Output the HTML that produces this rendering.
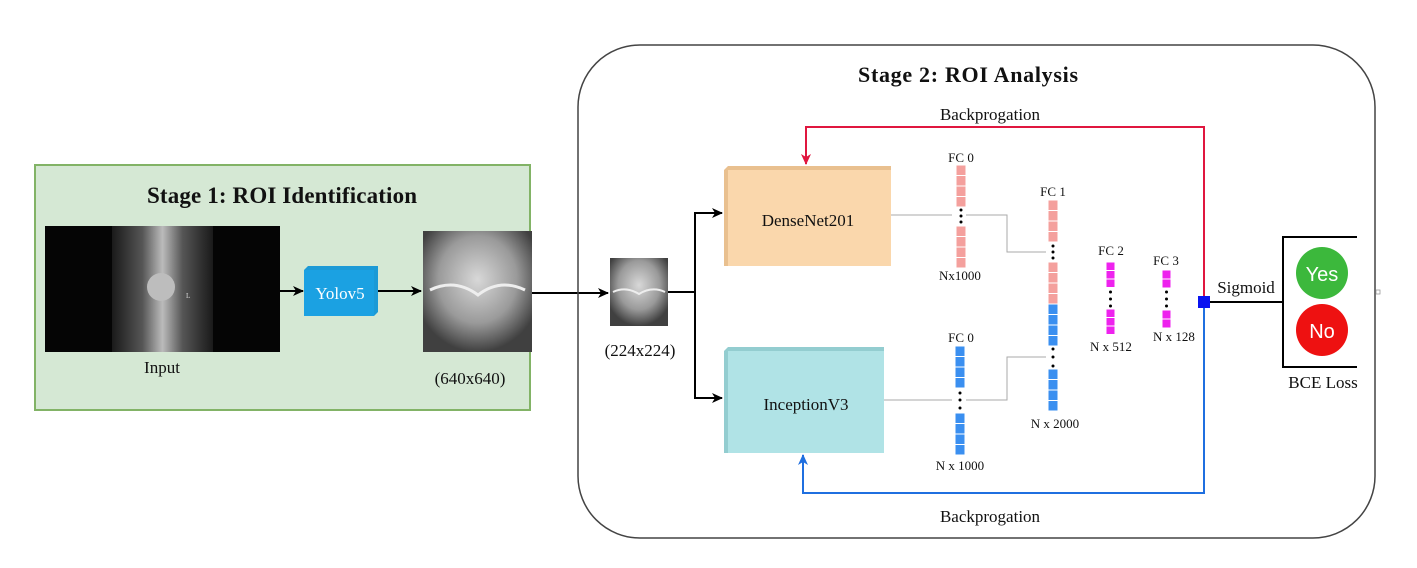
<!DOCTYPE html>
<html><head><meta charset="utf-8"><style>
html,body{margin:0;padding:0;background:#fff;}
svg{display:block;}
text{font-family:"Liberation Serif",serif;fill:#111;}
</style></head><body>
<svg width="1417" height="568" viewBox="0 0 1417 568" xmlns="http://www.w3.org/2000/svg">
<defs>
<marker id="ab" markerWidth="12" markerHeight="12" refX="10" refY="6" orient="auto" markerUnits="userSpaceOnUse"><path d="M0,1 L11,6 L0,11 L3,6 z" fill="#000"/></marker>
<marker id="ar" markerWidth="12" markerHeight="12" refX="10" refY="6" orient="auto" markerUnits="userSpaceOnUse"><path d="M0,1 L11,6 L0,11 L3,6 z" fill="#e0163f"/></marker>
<marker id="abl" markerWidth="12" markerHeight="12" refX="10" refY="6" orient="auto" markerUnits="userSpaceOnUse"><path d="M0,1 L11,6 L0,11 L3,6 z" fill="#1f6fe0"/></marker>
<radialGradient id="knee" cx="0.5" cy="0.4" r="0.6"><stop offset="0" stop-color="#d8d8d8"/><stop offset="0.6" stop-color="#9a9a9a"/><stop offset="1" stop-color="#404040"/></radialGradient>
<linearGradient id="leg" x1="0" x2="1"><stop offset="0" stop-color="#1a1a1a"/><stop offset="0.3" stop-color="#555"/><stop offset="0.5" stop-color="#bbb"/><stop offset="0.7" stop-color="#555"/><stop offset="1" stop-color="#1a1a1a"/></linearGradient>
</defs>

<!-- Stage 1 -->
<rect x="35" y="165" width="495" height="245" fill="#d5e8d4" stroke="#82b366" stroke-width="2"/>
<text x="282" y="203" font-size="23" font-weight="bold" text-anchor="middle" textLength="270">Stage 1: ROI Identification</text>
<rect x="45" y="226" width="235" height="126" fill="#050505"/>
<rect x="112" y="226" width="101" height="126" fill="url(#leg)"/>
<ellipse cx="161" cy="287" rx="14" ry="14" fill="#bdbdbd"/>
<text x="186" y="298" font-size="7" style="fill:#ddd">L</text>
<text x="162" y="373" font-size="17" text-anchor="middle">Input</text>

<line x1="280" y1="291" x2="303" y2="291" stroke="#000" stroke-width="2" marker-end="url(#ab)"/>
<path d="M304,270 L308,266 L378,266 L378,312 L374,316 L304,316 z" fill="#1c9ad6"/>
<rect x="304" y="270" width="70" height="46" fill="#1ba1e2"/>
<text x="340" y="299" font-size="17" text-anchor="middle" style="fill:#fff">Yolov5</text>
<line x1="378" y1="291" x2="421" y2="291" stroke="#000" stroke-width="2" marker-end="url(#ab)"/>

<rect x="423" y="231" width="109" height="121" fill="url(#knee)"/>
<path d="M430,290 Q455,278 478,295 Q500,278 525,290" stroke="#eee" stroke-width="3" fill="none"/>
<text x="470" y="384" font-size="17" text-anchor="middle">(640x640)</text>

<line x1="532" y1="293" x2="608" y2="293" stroke="#000" stroke-width="2" marker-end="url(#ab)"/>

<!-- Stage 2 -->
<rect x="578" y="45" width="797" height="493" rx="62" ry="62" fill="none" stroke="#444" stroke-width="1.5"/>
<text x="968" y="82" font-size="22" font-weight="bold" text-anchor="middle" textLength="220">Stage 2: ROI Analysis</text>

<rect x="610" y="258" width="58" height="68" fill="url(#knee)"/>
<path d="M613,292 Q626,286 639,294 Q652,286 665,292" stroke="#eee" stroke-width="2" fill="none"/>
<text x="640" y="356" font-size="17" text-anchor="middle">(224x224)</text>

<path d="M668,292 L695,292" stroke="#000" stroke-width="2" fill="none"/>
<path d="M695,213 L695,398" stroke="#000" stroke-width="2" fill="none"/>
<line x1="694" y1="213" x2="722" y2="213" stroke="#000" stroke-width="2" marker-end="url(#ab)"/>
<line x1="694" y1="398" x2="722" y2="398" stroke="#000" stroke-width="2" marker-end="url(#ab)"/>

<path d="M724,170 L728,166 L891,166 L891,262 L887,266 L724,266 z" fill="#e9c08f"/>
<rect x="728" y="170" width="163" height="96" fill="#fad7ac"/>
<text x="808" y="226" font-size="17" text-anchor="middle">DenseNet201</text>

<path d="M724,351 L728,347 L884,347 L884,449 L880,453 L724,453 z" fill="#93cdd0"/>
<rect x="728" y="351" width="156" height="102" fill="#b0e3e6"/>
<text x="806" y="410" font-size="17" text-anchor="middle">InceptionV3</text>

<g stroke="#aaa" stroke-width="1" fill="none">
<path d="M891,215 L952,215 M966,215 L1007,215 L1007,252 L1046,252"/>
<path d="M884,400 L952,400 M966,400 L1007,400 L1007,357 L1046,357"/>
</g>

<!-- FC0 top -->
<text x="961" y="162" font-size="13" text-anchor="middle">FC 0</text>
<g fill="#f4a09d" stroke="#fff" stroke-width="1">
<rect x="956" y="165" width="10" height="10.5"/><rect x="956" y="175.5" width="10" height="10.5"/><rect x="956" y="186" width="10" height="10.5"/><rect x="956" y="196.5" width="10" height="10.5"/>
<rect x="956" y="226" width="10" height="10.5"/><rect x="956" y="236.5" width="10" height="10.5"/><rect x="956" y="247" width="10" height="10.5"/><rect x="956" y="257.5" width="10" height="10.5"/>
</g>
<g fill="#000"><circle cx="961" cy="210" r="1.5"/><circle cx="961" cy="216" r="1.5"/><circle cx="961" cy="222" r="1.5"/></g>
<text x="960" y="280" font-size="13" text-anchor="middle">Nx1000</text>

<!-- FC0 bottom -->
<text x="961" y="342" font-size="13" text-anchor="middle">FC 0</text>
<g fill="#3a8ff0" stroke="#fff" stroke-width="1">
<rect x="955" y="346" width="10" height="10.5"/><rect x="955" y="356.5" width="10" height="10.5"/><rect x="955" y="367" width="10" height="10.5"/><rect x="955" y="377.5" width="10" height="10.5"/>
<rect x="955" y="413" width="10" height="10.5"/><rect x="955" y="423.5" width="10" height="10.5"/><rect x="955" y="434" width="10" height="10.5"/><rect x="955" y="444.5" width="10" height="10.5"/>
</g>
<g fill="#000"><circle cx="960" cy="393" r="1.5"/><circle cx="960" cy="400" r="1.5"/><circle cx="960" cy="408" r="1.5"/></g>
<text x="960" y="470" font-size="13" text-anchor="middle">N x 1000</text>

<!-- FC1 -->
<text x="1053" y="196" font-size="13" text-anchor="middle">FC 1</text>
<g fill="#f4a09d" stroke="#fff" stroke-width="1">
<rect x="1048" y="200" width="10" height="10.5"/><rect x="1048" y="210.5" width="10" height="10.5"/><rect x="1048" y="221" width="10" height="10.5"/><rect x="1048" y="231.5" width="10" height="10.5"/>
<rect x="1048" y="262" width="10" height="10.5"/><rect x="1048" y="272.5" width="10" height="10.5"/><rect x="1048" y="283" width="10" height="10.5"/><rect x="1048" y="293.5" width="10" height="10.5"/>
</g>
<g fill="#3a8ff0" stroke="#fff" stroke-width="1">
<rect x="1048" y="304" width="10" height="10.5"/><rect x="1048" y="314.5" width="10" height="10.5"/><rect x="1048" y="325" width="10" height="10.5"/><rect x="1048" y="335.5" width="10" height="10.5"/>
<rect x="1048" y="369" width="10" height="10.5"/><rect x="1048" y="379.5" width="10" height="10.5"/><rect x="1048" y="390" width="10" height="10.5"/><rect x="1048" y="400.5" width="10" height="10.5"/>
</g>
<g fill="#000"><circle cx="1053" cy="246" r="1.5"/><circle cx="1053" cy="252" r="1.5"/><circle cx="1053" cy="258" r="1.5"/>
<circle cx="1053" cy="349" r="1.5"/><circle cx="1053" cy="357" r="1.5"/><circle cx="1053" cy="366" r="1.5"/></g>
<text x="1055" y="428" font-size="13" text-anchor="middle">N x 2000</text>

<!-- FC2 -->
<text x="1111" y="255" font-size="13" text-anchor="middle">FC 2</text>
<g fill="#ee22ee" stroke="#fff" stroke-width="1">
<rect x="1106" y="262" width="9" height="8.5"/><rect x="1106" y="270.5" width="9" height="8.5"/><rect x="1106" y="279" width="9" height="8.5"/>
<rect x="1106" y="309" width="9" height="8.5"/><rect x="1106" y="317.5" width="9" height="8.5"/><rect x="1106" y="326" width="9" height="8.5"/>
</g>
<g fill="#000"><circle cx="1110.5" cy="292" r="1.5"/><circle cx="1110.5" cy="299" r="1.5"/><circle cx="1110.5" cy="306" r="1.5"/></g>
<text x="1111" y="351" font-size="13" text-anchor="middle">N x 512</text>

<!-- FC3 -->
<text x="1166" y="265" font-size="13" text-anchor="middle">FC 3</text>
<g fill="#ee22ee" stroke="#fff" stroke-width="1">
<rect x="1162" y="270" width="9" height="9"/><rect x="1162" y="279" width="9" height="9"/>
<rect x="1162" y="310" width="9" height="9"/><rect x="1162" y="319" width="9" height="9"/>
</g>
<g fill="#000"><circle cx="1166.5" cy="292" r="1.5"/><circle cx="1166.5" cy="299" r="1.5"/><circle cx="1166.5" cy="306" r="1.5"/></g>
<text x="1174" y="341" font-size="13" text-anchor="middle">N x 128</text>

<!-- backprop lines -->
<path d="M1204,297 L1204,127 L806,127 L806,164" stroke="#e0163f" stroke-width="2" fill="none" marker-end="url(#ar)"/>
<path d="M1204,307 L1204,493 L803,493 L803,455" stroke="#1f6fe0" stroke-width="2" fill="none" marker-end="url(#abl)"/>
<text x="990" y="120" font-size="17" text-anchor="middle">Backprogation</text>
<text x="990" y="522" font-size="17" text-anchor="middle">Backprogation</text>
<rect x="1198" y="296" width="12" height="12" fill="#0a14f0"/>

<!-- output -->
<line x1="1210" y1="302" x2="1283" y2="302" stroke="#000" stroke-width="2"/>
<text x="1246" y="293" font-size="17" text-anchor="middle">Sigmoid</text>
<path d="M1357,237 L1283,237 L1283,367 L1357,367" stroke="#000" stroke-width="2" fill="none"/>
<circle cx="1322" cy="273" r="26" fill="#3cb83c"/>
<text x="1322" y="281" font-size="20" text-anchor="middle" style="fill:#fff;font-family:'Liberation Sans',sans-serif">Yes</text>
<circle cx="1322" cy="330" r="26" fill="#ee1111"/>
<text x="1322" y="338" font-size="20" text-anchor="middle" style="fill:#fff;font-family:'Liberation Sans',sans-serif">No</text>
<text x="1323" y="388" font-size="17" text-anchor="middle">BCE Loss</text>
<rect x="1376" y="290" width="4" height="4" fill="none" stroke="#999" stroke-width="0.8"/>
</svg>
</body></html>
